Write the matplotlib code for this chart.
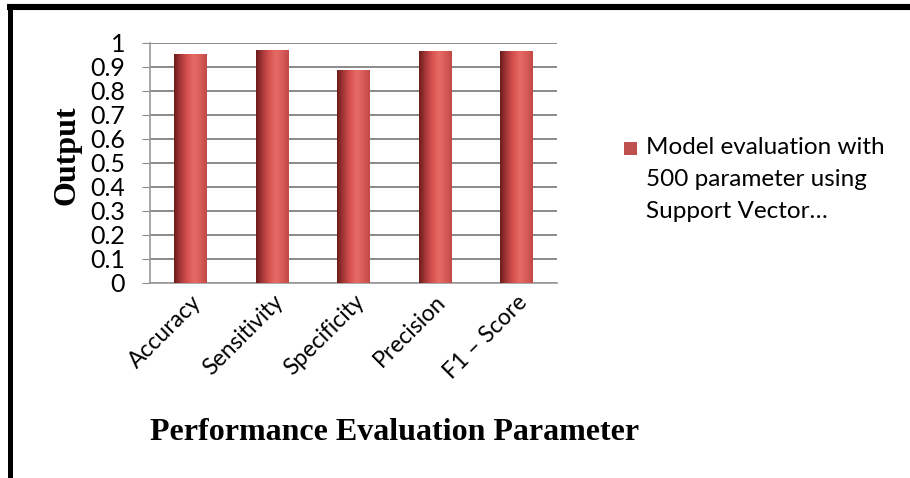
import numpy as np
import matplotlib
matplotlib.use("Agg")
import matplotlib.pyplot as plt
from matplotlib.lines import Line2D
from matplotlib.patches import Rectangle
from matplotlib.legend_handler import HandlerPatch
from matplotlib.colors import LinearSegmentedColormap

categories = ["Accuracy", "Sensitivity", "Specificity", "Precision", "F1 \u2013 Score"]
values = [0.953, 0.972, 0.886, 0.968, 0.968]
series_label = "Model evaluation with\n500 parameter using\nSupport Vector\u2026"
yticks = [0, 0.1, 0.2, 0.3, 0.4, 0.5, 0.6, 0.7, 0.8, 0.9, 1]
ytick_labels = ["0", "0.1", "0.2", "0.3", "0.4", "0.5", "0.6", "0.7", "0.8", "0.9", "1"]

W, H = 910, 478
fig = plt.figure(figsize=(W / 100, H / 100), dpi=100)
ax = fig.add_axes([150 / W, 1 - 283 / H, (557 - 150) / W, (283 - 43) / H])

x = np.arange(len(categories))
bars = ax.bar(x, values, width=0.4, color="#c0504d", zorder=3, label=series_label)

# cylinder-like shading clipped to each bar
cmap = LinearSegmentedColormap.from_list(
    "cyl", ["#6a1c1a", "#a8383a", "#d6524f", "#e66a66", "#d85c58", "#c04a46"])
grad = np.linspace(0, 1, 256).reshape(1, -1)
for b in bars:
    x0, y0, w, h = b.get_x(), b.get_y(), b.get_width(), b.get_height()
    im = ax.imshow(grad, cmap=cmap, extent=[x0, x0 + w, y0, y0 + h],
                   aspect="auto", zorder=4, interpolation="bicubic")
    im.set_clip_path(b)

ax.set_xlim(-0.5, len(categories) - 0.5)
ax.set_ylim(0, 1)
ax.set_yticks(yticks)
ax.set_yticklabels(ytick_labels, family="Lato", fontsize=18)
ax.set_xticks(x)
ax.set_xticklabels(categories, rotation=45, ha="right", rotation_mode="anchor",
                   family="Lato", fontsize=16.5)
ax.tick_params(axis="x", length=0, pad=6)
ax.tick_params(axis="y", length=6, color="#8c8c8c", pad=12)
ax.grid(axis="y", color="#8a8a8a", linewidth=1.4, zorder=1)
for s in ["top", "right"]:
    ax.spines[s].set_visible(False)
for s in ["left", "bottom"]:
    ax.spines[s].set_color("#9a9a9a")
    ax.spines[s].set_linewidth(1.2)

fig.text(395 / W, 1 - 440 / H, "Performance Evaluation Parameter",
         family="Liberation Serif", fontweight="bold", fontsize=23,
         ha="center", va="baseline")
fig.text(67 / W, 1 - 155 / H, "Output", family="Liberation Serif",
         fontweight="bold", fontsize=23, rotation=90, ha="center", va="center")

LEG_FS = 17.5
PITCH_PT = 33 * 0.72  # distance between text lines, in points


def top_square(legend, orig_handle, xdescent, ydescent, width, height, fontsize):
    sq = 9.6
    # the square sits on the baseline of the first text line
    return Rectangle((-xdescent, PITCH_PT), sq, sq)


leg = fig.legend(handles=[bars.patches[0]], labels=[series_label], loc="upper left",
                 bbox_to_anchor=(624 / W, 1 - 137 / H), frameon=False,
                 prop={"family": "Lato", "size": LEG_FS}, handlelength=0.62,
                 handleheight=0.7, handletextpad=0.3, borderaxespad=0, borderpad=0,
                 handler_map={Rectangle: HandlerPatch(patch_func=top_square)})
leg.get_texts()[0].set_linespacing(1.65)

# outer frame (top and left edges)
fig.add_artist(Line2D([7 / W, 1], [1 - 7 / H, 1 - 7 / H], color="black",
                      linewidth=4.4, solid_capstyle="butt"))
fig.add_artist(Line2D([9.5 / W, 9.5 / W], [0, 1 - 4 / H], color="black",
                      linewidth=3.6, solid_capstyle="butt"))

fig.savefig("out.png", dpi=100)
